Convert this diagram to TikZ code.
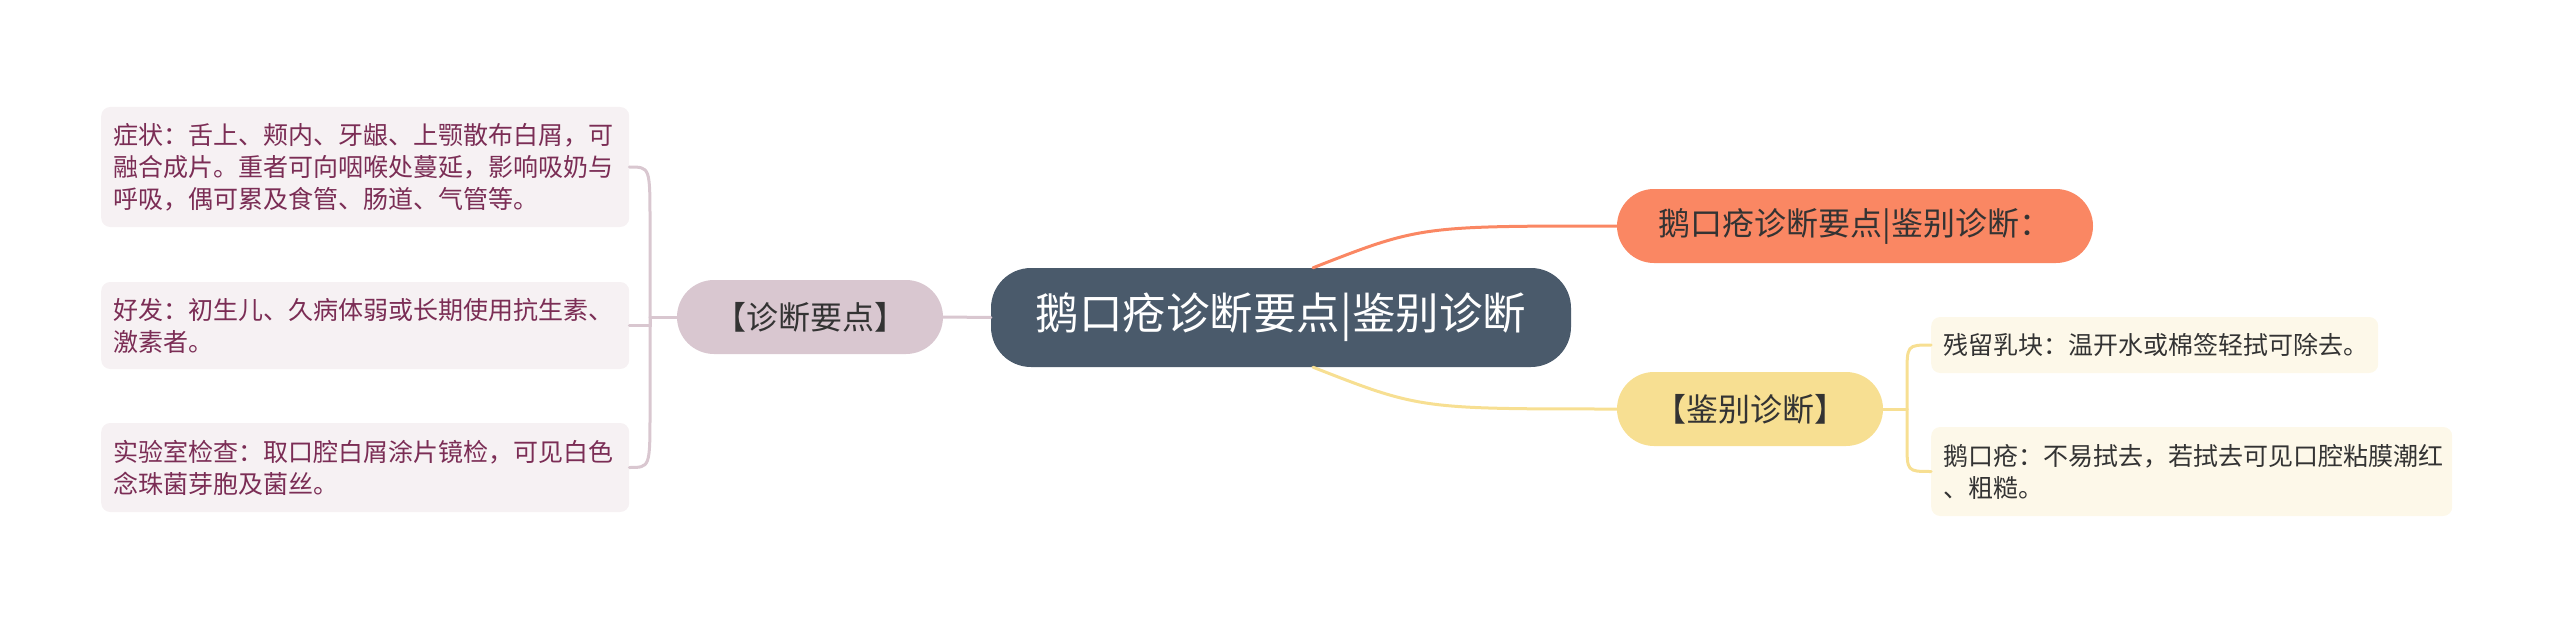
\documentclass[tikz,border=0pt]{standalone}
\usepackage{fontspec}
\setmainfont{Noto Sans CJK SC}
\usepackage{xcolor}
\usepackage{tikz}
\definecolor{rootbg}{HTML}{4A5A6B}
\definecolor{orangebg}{HTML}{FA8763}
\definecolor{mauvebg}{HTML}{D9C7D0}
\definecolor{yellowbg}{HTML}{F7DF92}
\definecolor{pinkbg}{HTML}{F6F1F3}
\definecolor{creambg}{HTML}{FDF8E9}
\definecolor{leaftxt}{HTML}{7B2D55}
\definecolor{txtdark}{HTML}{333333}

\begin{document}
\begin{tikzpicture}[x=1pt,y=-1pt,line cap=round,
  root/.style={fill=rootbg,text=white,rounded corners=40pt,minimum width=580pt,minimum height=99pt,font=\fontsize{43.5}{52}\selectfont},
  topic/.style={rounded corners=37pt,minimum height=74pt,text=txtdark,font=\fontsize{32}{40}\selectfont},
  leaf/.style={rounded corners=9pt,align=left,anchor=west,inner xsep=12pt,inner ysep=0pt,font=\fontsize{25}{32}\selectfont},
  lline/.style={draw=mauvebg,line width=3pt},
  oline/.style={draw=orangebg,line width=3pt},
  yline/.style={draw=yellowbg,line width=3pt}]
  \useasboundingbox (0,0) rectangle (2560,623);
% main topics
  \node[root] (root) at (1281,317.5) {鹅口疮诊断要点|鉴别诊断};
  \node[topic,fill=orangebg,minimum width=476pt] (jd) at (1855,226) {鹅口疮诊断要点|鉴别诊断：};
  \node[topic,fill=mauvebg,minimum width=266pt] (zd) at (810,317) {【诊断要点】};
  \node[topic,fill=yellowbg,minimum width=266pt] (jb) at (1750,409) {【鉴别诊断】};
% leaves
  \node[leaf,fill=pinkbg,text=leaftxt,text width=504pt,minimum height=120pt] (zz) at (101,167)
    {症状：舌上、颊内、牙龈、上颚散布白屑，可\\融合成片。重者可向咽喉处蔓延，影响吸奶与\\呼吸，偶可累及食管、肠道、气管等。};
  \node[leaf,fill=pinkbg,text=leaftxt,text width=504pt,minimum height=87pt] (hf) at (101,325.5)
    {好发：初生儿、久病体弱或长期使用抗生素、\\激素者。};
  \node[leaf,fill=pinkbg,text=leaftxt,text width=504pt,minimum height=89pt] (sy) at (101,467.5)
    {实验室检查：取口腔白屑涂片镜检，可见白色\\念珠菌芽胞及菌丝。};
  \node[leaf,fill=creambg,text=txtdark,text width=423pt,minimum height=56pt] (cl) at (1931,345)
    {残留乳块：温开水或棉签轻拭可除去。};
  \node[leaf,fill=creambg,text=txtdark,text width=497pt,minimum height=89pt] (ek) at (1931,471.5)
    {鹅口疮：不易拭去，若拭去可见口腔粘膜潮红\\、粗糙。};
% connectors
  \coordinate (tl) at (650,317);
  \coordinate (tr) at (1907,409);
  \draw[lline] (root.west) -- (zd.east);
  \draw[lline] (zd.west) -- (tl);
  \draw[lline] (tl) -- ++(0,-95) .. controls (tl|-zz.east) .. (zz.east);
  \draw[lline] (tl) -- (tl|-hf.east) -- (hf.east);
  \draw[lline] (tl) -- ++(0,95) .. controls (tl|-sy.east) .. (sy.east);
  \draw[oline] ([xshift=32pt]root.north) .. controls ([xshift=-197pt]jd.west) .. (jd.west);
  \draw[yline] ([xshift=32pt]root.south) .. controls ([xshift=-197pt]jb.west) .. (jb.west);
  \draw[yline] (jb.east) -- (tr);
  \draw[yline] (tr) -- ++(0,-34) .. controls (tr|-cl.west) .. (cl.west);
  \draw[yline] (tr) -- ++(0,34) .. controls (tr|-ek.west) .. (ek.west);
\end{tikzpicture}
\end{document}
